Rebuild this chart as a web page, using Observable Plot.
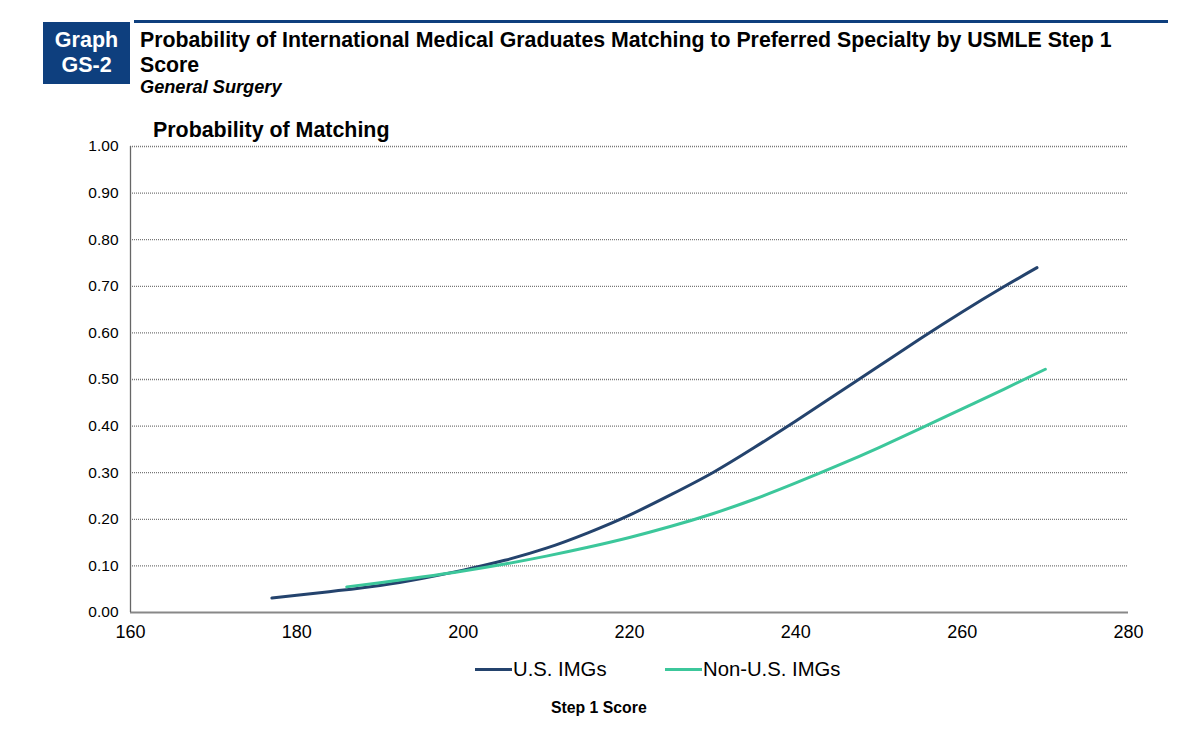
<!DOCTYPE html>
<html>
<head>
<meta charset="utf-8">
<script src="https://cdn.jsdelivr.net/npm/d3@7"></script>
<script src="https://cdn.jsdelivr.net/npm/@observablehq/plot@0.6"></script>
<style>
  html, body { margin: 0; padding: 0; background: #fff; }
  body { width: 1200px; height: 737px; position: relative; overflow: hidden; font-family: "Liberation Sans", Arial, sans-serif; }
  #badge { position: absolute; left: 43px; top: 22px; width: 87px; height: 62px; background: #0e3f7e; color: #fff; font-weight: bold; font-size: 21.5px; line-height: 25px; text-align: center; padding-top: 6px; box-sizing: border-box; }
  #rule { position: absolute; left: 134px; top: 20px; width: 1034px; height: 3px; background: #0e3f7e; }
  #title { position: absolute; left: 140px; top: 28px; width: 1040px; font-weight: bold; font-size: 21.3px; line-height: 25px; color: #000; }
  #subtitle { position: absolute; left: 140px; top: 77px; font-weight: bold; font-style: italic; font-size: 18.2px; color: #000; }
  #chart { position: absolute; left: 0; top: 0; }
  #ytitle { position: absolute; left: 153px; top: 118px; font-weight: bold; font-size: 21.4px; color: #000; }
  #legend { position: absolute; left: 0; top: 658px; width: 1200px; font-size: 20.3px; color: #000; }
  .item { position: absolute; top: 0; display: flex; align-items: center; }
  .sw { display: inline-block; width: 37px; height: 3px; margin-right: 1px; }
  #xtitle { position: absolute; left: 551px; top: 699px; font-weight: bold; font-size: 15.8px; color: #000; }
</style>
</head>
<body>
<div id="chart"></div>
<div id="badge">Graph<br>GS-2</div>
<div id="rule"></div>
<div id="title">Probability of International Medical Graduates Matching to Preferred Specialty by USMLE Step 1<br>Score</div>
<div id="subtitle">General Surgery</div>
<div id="ytitle">Probability of Matching</div>
<div id="legend"></div>
<div id="xtitle">Step 1 Score</div>
<script>
const seriesNames = ["U.S. IMGs", "Non-U.S. IMGs"];
const seriesColors = ["#24436d", "#3cc79b"];

const usScores = [177, 180, 185, 190, 195, 200, 205, 210, 215, 220, 225, 230, 235, 240, 245, 250, 255, 260, 265, 269];
const usProb   = [0.031, 0.037, 0.047, 0.058, 0.073, 0.091, 0.112, 0.138, 0.171, 0.209, 0.253, 0.300, 0.354, 0.411, 0.470, 0.529, 0.588, 0.645, 0.699, 0.740];

const nonUsScores = [186, 190, 195, 200, 205, 210, 215, 220, 225, 230, 235, 240, 245, 250, 255, 260, 265, 270];
const nonUsProb   = [0.055, 0.064, 0.076, 0.089, 0.104, 0.121, 0.140, 0.161, 0.185, 0.212, 0.243, 0.278, 0.315, 0.354, 0.395, 0.437, 0.479, 0.522];

const xTicks = [160, 180, 200, 220, 240, 260, 280];
const yTicks = [0, 0.1, 0.2, 0.3, 0.4, 0.5, 0.6, 0.7, 0.8, 0.9, 1.0];

const data = [
  ...usScores.map((s, i) => ({series: seriesNames[0], score: s, p: usProb[i]})),
  ...nonUsScores.map((s, i) => ({series: seriesNames[1], score: s, p: nonUsProb[i]}))
];

const chart = Plot.plot({
  width: 1200,
  height: 737,
  marginLeft: 130,
  marginRight: 72,
  marginTop: 146,
  marginBottom: 125,
  style: {fontFamily: "'Liberation Sans', Arial, sans-serif", background: "transparent", color: "#000"},
  x: {domain: [160, 280], ticks: xTicks},
  y: {domain: [0, 1], ticks: yTicks},
  color: {domain: seriesNames, range: seriesColors},
  marks: [
    Plot.ruleY(yTicks.filter(d => d > 0), {stroke: "#777", strokeWidth: 1.3, strokeDasharray: "1,1"}),
    Plot.ruleY([0], {stroke: "#888", strokeWidth: 2}),
    Plot.ruleX([160], {stroke: "#666", strokeWidth: 1.3}),
    Plot.axisY({ticks: yTicks, tickFormat: d3.format(".2f"), tickSize: 0, tickPadding: 12, fontSize: 15.5, label: null}),
    Plot.axisX({ticks: xTicks, tickFormat: d => d, tickSize: 0, tickPadding: 13, fontSize: 18, label: null}),
    Plot.line(data, {x: "score", y: "p", z: "series", stroke: "series", strokeWidth: 3, curve: "natural"})
  ]
});
document.getElementById("chart").appendChild(chart);

const legend = document.getElementById("legend");
const legendX = [475, 665];
seriesNames.forEach((n, i) => {
  const it = document.createElement("div");
  it.className = "item";
  it.style.left = legendX[i] + "px";
  const sw = document.createElement("span");
  sw.className = "sw";
  sw.style.background = seriesColors[i];
  const t = document.createElement("span");
  t.textContent = n;
  it.appendChild(sw);
  it.appendChild(t);
  legend.appendChild(it);
});
</script>
</body>
</html>
